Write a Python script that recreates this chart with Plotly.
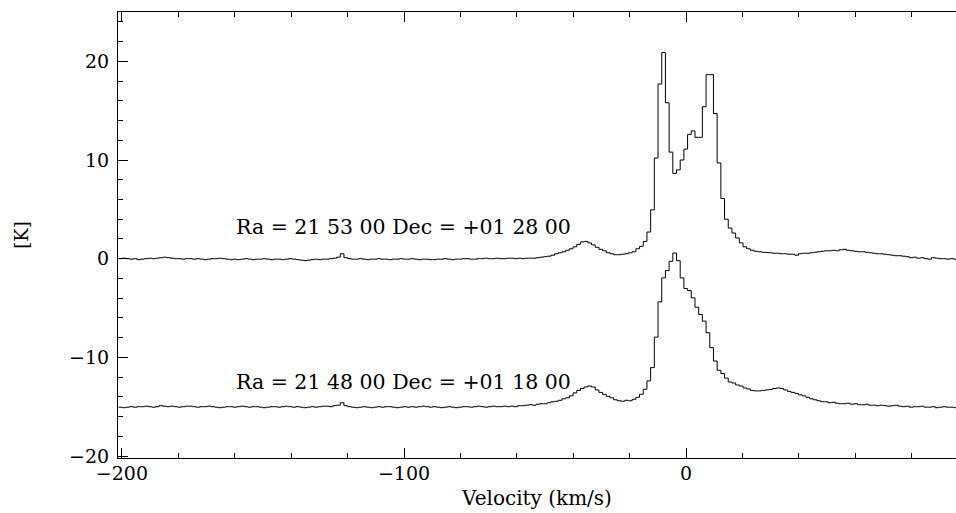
import numpy as np
import plotly.graph_objects as go

# Velocity channel grid (km/s): first channel left edge and channel width
v_start = -201.2
v_step = 1.31

# Upper spectrum: Ra = 21 53 00 Dec = +01 28 00  (brightness temperature, K)
t_upper = [
    0.0, 0.05, 0.0, -0.05, 0.0, -0.1, -0.05, 0.0, 0.05, 0.0,
    0.05, 0.1, 0.15, 0.1, 0.05, 0.0, 0.0, -0.05, 0.0, 0.0,
    -0.05, 0.0, -0.05, -0.1, -0.05, 0.0, 0.0, 0.05, 0.0, -0.05,
    -0.1, -0.05, -0.1, -0.05, 0.0, -0.05, -0.1, -0.05, -0.05, 0.0,
    -0.05, -0.1, -0.05, -0.05, -0.1, -0.05, 0.0, -0.05, -0.1, -0.15,
    -0.2, -0.15, -0.1, -0.05, -0.1, -0.05, -0.05, 0.0, 0.05, 0.15,
    0.5, 0.1, 0.0, -0.05, -0.05, 0.0, -0.05, -0.1, -0.05, -0.05,
    0.0, -0.05, -0.05, -0.1, -0.05, -0.05, 0.0, -0.05, -0.05, 0.0,
    -0.05, -0.1, -0.05, -0.05, -0.1, -0.1, -0.05, -0.05, 0.0, -0.05,
    -0.1, -0.05, -0.05, 0.0, 0.0, -0.05, -0.05, 0.0, 0.0, 0.05,
    0.0, 0.0, 0.05, 0.0, 0.0, 0.05, 0.05, 0.0, 0.05, 0.0,
    0.05, 0.05,
    0.05, 0.1, 0.15, 0.2, 0.25, 0.35, 0.5, 0.6, 0.7, 0.85,
    1.0, 1.2, 1.45, 1.7, 1.75, 1.6, 1.4, 1.15, 0.95, 0.8,
    0.6, 0.5, 0.4, 0.4, 0.45, 0.5, 0.6, 0.7, 1.0, 1.25,
    1.75, 2.7, 4.95, 10.2, 17.7, 20.9, 15.8, 10.8, 8.65, 9.0,
    10.0, 11.1, 12.6, 12.95, 12.3, 12.3, 15.4, 18.65, 18.65, 14.7,
    9.7, 6.1, 4.0, 3.1, 2.6, 2.1, 1.6, 1.2, 1.0, 0.85,
    0.75, 0.7,
    0.65, 0.62, 0.6, 0.55, 0.55, 0.5, 0.5, 0.45, 0.45, 0.35,
    0.5, 0.55, 0.55, 0.6, 0.65, 0.7, 0.75, 0.8, 0.8, 0.85,
    0.8, 0.9, 0.95, 0.85, 0.8, 0.75, 0.7, 0.7, 0.65, 0.6,
    0.55, 0.5, 0.5, 0.45, 0.4, 0.35, 0.3, 0.3, 0.25, 0.2,
    0.1, 0.15, 0.05, 0.1, 0.0, -0.05, 0.1, 0.05, 0.0, 0.0,
    -0.05, 0.0, -0.05,
]

# Lower spectrum: Ra = 21 48 00 Dec = +01 18 00  (offset by -15 K)
t_lower = [
    -15.05, -15.1, -15.05, -15.0, -15.05, -15.0, -15.0, -14.95, -15.0, -15.05,
    -15.0, -14.9, -14.95, -15.0, -14.95, -15.0, -15.05, -15.0, -14.95, -14.95,
    -15.0, -15.05, -15.0, -15.0, -14.95, -15.0, -15.05, -15.1, -15.05, -15.0,
    -15.0, -15.05, -15.0, -14.95, -15.0, -15.05, -15.0, -15.0, -15.05, -15.1,
    -15.05, -15.0, -15.0, -15.05, -15.0, -14.95, -15.0, -15.05, -15.0, -15.05,
    -15.1, -15.05, -15.0, -15.05, -15.0, -14.95, -14.95, -15.0, -14.9, -14.85,
    -14.6, -14.9, -15.0, -15.05, -15.1, -15.05, -15.0, -15.05, -15.1, -15.05,
    -15.0, -15.05, -15.0, -15.0, -15.05, -15.1, -15.05, -15.0, -15.05, -15.0,
    -15.05, -15.0, -14.95, -15.0, -15.05, -15.0, -15.05, -15.1, -15.05, -15.0,
    -15.05, -15.1, -15.05, -15.0, -15.0, -15.05, -15.0, -14.95, -15.0, -15.05,
    -15.0, -14.95, -15.0, -15.0, -14.95,
    -15.0, -14.95, -15.0, -14.9, -14.9, -14.85, -14.8, -14.85, -14.75, -14.7,
    -14.7, -14.6, -14.5, -14.45, -14.35, -14.2, -14.1, -13.9, -13.6, -13.35,
    -13.15, -13.0, -12.9, -13.0, -13.3, -13.55, -13.75, -13.95, -14.1, -14.3,
    -14.4, -14.45, -14.35, -14.4, -14.25,
    -14.05, -13.74, -13.23, -12.39, -11.04, -7.95, -4.38, -1.95, -1.21, -0.27,
    0.57, -0.2, -1.95, -3.03, -3.23, -3.97, -4.92, -5.66, -6.33, -7.5,
    -9.02, -10.37, -11.31, -11.65, -12.1,
    -12.5, -12.6, -12.8, -12.9, -13.1, -13.2, -13.35, -13.4,
    -13.4, -13.35, -13.3, -13.25, -13.15, -13.1, -13.15, -13.3, -13.45, -13.55,
    -13.65, -13.8, -13.9, -14.05, -14.2, -14.3, -14.4, -14.5, -14.5, -14.6,
    -14.55, -14.65, -14.7, -14.7, -14.65, -14.75, -14.7, -14.8, -14.8, -14.75,
    -14.85, -14.85, -14.9, -14.85, -14.9, -14.95, -14.9, -14.85, -14.95, -15.0,
    -14.95, -15.05, -15.0, -15.0, -14.95, -15.05, -15.05, -15.0, -15.1, -15.05,
    -15.0, -15.05, -15.05, -15.1,
]

labels = ["Ra = 21 53 00 Dec = +01 28 00", "Ra = 21 48 00 Dec = +01 18 00"]
label_x = [-160.3, -160.3]
label_y = [3.2, -12.5]

x_title = "Velocity (km/s)"
y_title = "[K]"

FONT = "DejaVu Serif, Liberation Serif, serif"


def step_xy(vals):
    n = len(vals)
    edges = v_start + v_step * np.arange(n + 1)
    ys = list(vals) + [vals[-1]]
    return edges, ys


fig = go.Figure()
for vals in (t_upper, t_lower):
    xs, ys = step_xy(vals)
    fig.add_trace(go.Scatter(x=xs, y=ys, mode="lines", line_shape="hv",
                             line=dict(color="black", width=1),
                             hoverinfo="skip", showlegend=False))

for txt, lx, ly in zip(labels, label_x, label_y):
    fig.add_annotation(x=lx, y=ly, text=txt, showarrow=False, xanchor="left",
                       yanchor="middle", font=dict(family=FONT, size=20.5, color="black"))

fig.update_layout(
    width=956, height=513,
    margin=dict(l=118, r=0, t=12, b=55),
    paper_bgcolor="white", plot_bgcolor="white",
    font=dict(family=FONT, size=19, color="black"),
    showlegend=False,
)
fig.update_xaxes(
    range=[-201.4, 95.7], tickmode="linear", tick0=-200, dtick=100,
    ticks="inside", ticklen=10, tickwidth=1, tickcolor="black",
    minor=dict(tick0=-200, dtick=20, ticks="inside", ticklen=5, tickcolor="black"),
    showline=True, linecolor="black", linewidth=1, mirror="ticks",
    showgrid=False, zeroline=False,
    title=dict(text=x_title, font=dict(size=20), standoff=8),
    ticklabelstandoff=-2,
)
fig.update_yaxes(
    range=[-20.2, 25.0], tickmode="linear", tick0=0, dtick=10,
    ticks="inside", ticklen=10, tickwidth=1, tickcolor="black",
    minor=dict(tick0=0, dtick=2, ticks="inside", ticklen=5, tickcolor="black"),
    showline=True, linecolor="black", linewidth=1,
    showgrid=False, zeroline=False,
    title=dict(text=y_title, font=dict(size=18), standoff=35),
    ticklabelstandoff=4,
)

fig.write_html("out.html", config={"displayModeBar": False})
